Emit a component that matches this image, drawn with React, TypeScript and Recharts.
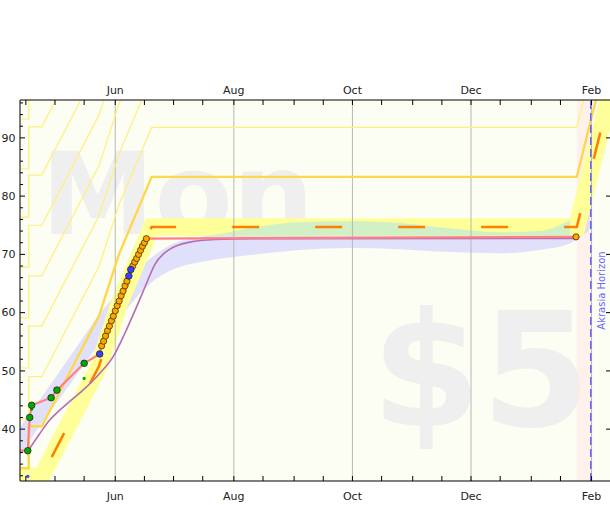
import React from "react";
import { ComposedChart, Line, Area, XAxis, YAxis, ReferenceLine, ReferenceArea } from "recharts";

// x = days since Jun 1 (Feb 1 = 245)
const xDomain = [-49, 255];
const yDomain = [31.1, 96.5];

const tickDays = [-46, -31, -16, 0, 15, 30, 45, 61, 76, 92, 107, 122, 137, 153, 168, 183, 198, 214, 229, 245];
const monthDays = [0, 61, 122, 183, 245];
const monthNames = ["Jun", "Aug", "Oct", "Dec", "Feb"];
const yTicks = [32, 34, 36, 38, 40, 42, 44, 46, 48, 50, 52, 54, 56, 58, 60, 62, 64, 66, 68, 70, 72, 74, 76, 78, 80, 82, 84, 86, 88, 90, 92, 94, 96];
const yLabelled = [40, 50, 60, 70, 80, 90];

// yellow brick road centreline
const roadDays = [-49, -44.5, -44.5, -37.8, -8.4, 2, 18.7, 237.4, 255];
const roadVals = [24.7, 24.7, 31.9, 31.9, 50.8, 61.5, 74.7, 74.7, 98.3];
const thickOffset = 8.6;
const laneOffsets = [17.1, 25.8, 34.4, 43.1, 51.7, 60.0, 68.5];
const roadHalf = 1.5;

// datapoints
const greenDays = [-45, -44, -43, -33, -30, -16];
const greenVals = [36.3, 42.0, 44.1, 45.4, 46.7, 51.3];
const blueDays = [-8, 7, 8];
const blueVals = [52.9, 66.3, 67.4];
const orangeDays = [-7, -6, -5, -4, -3, -2, -1, 0, 1, 2, 3, 4, 5, 6, 9, 10, 11, 12, 13, 14, 15, 16, 237];
const orangeVals = [54.3, 55.1, 56.0, 56.9, 57.7, 58.6, 59.4, 60.3, 61.2, 62.0, 62.9, 63.7, 64.6, 65.4, 68.0, 68.7, 69.3, 70.0, 70.7, 71.4, 72.0, 72.7, 73.0];
const rawDays = [-43, -16];
const rawVals = [43.4, 48.7];
const startDot = [{ day: -45, value: 31.9 }];
const lineStart = { day: -49, value: 36.3 };

// moving average
const maDays = [-44.6, -38.7, -33.6, -28.4, -23.3, -15.6, -7.9, -1, 5, 10.2, 15.3, 20.4, 28.1, 38.4, 51.3, 69.3, 237.4];
const maVals = [36.4, 39.3, 41.6, 43.3, 44.8, 47.0, 49.6, 52.5, 56.5, 60.4, 64.4, 68.3, 70.9, 72.1, 72.55, 72.7, 72.75];

// aura
const auraDays = [-49, -39, -28, -18, -8, 0, 8, 18, 31, 44, 69, 95, 121, 146, 172, 198, 218, 234, 244];
const auraLo = [35.3, 40.5, 45.5, 50.2, 54.8, 58.0, 61.5, 65.0, 67.6, 68.7, 69.9, 70.75, 71.1, 70.9, 70.4, 70.2, 70.75, 71.9, 74.2];
const auraHi = [40.3, 45.0, 50.2, 55.0, 59.8, 63.0, 66.2, 69.3, 72.0, 73.0, 74.5, 75.55, 75.7, 75.4, 74.5, 73.8, 74.0, 75.9, 78.5];

const horizonDay = 244.6;
const pinkFrom = 237.4;
const flatVal = 74.7;

const road = roadDays.map((d, i) => ({ day: d, value: roadVals[i] }));
const shifted = (off: number) => roadDays.map((d, i) => ({ day: d, value: roadVals[i] + off }));
const pts = (ds: number[], vs: number[]) => ds.map((d, i) => ({ day: d, value: vs[i] }));
const greens = pts(greenDays, greenVals);
const blues = pts(blueDays, blueVals);
const oranges = pts(orangeDays, orangeVals);
const raws = pts(rawDays, rawVals);
const redLine = [lineStart, ...greens, ...blues, ...oranges].sort((a, b) => a.day - b.day);
const movAvg = pts(maDays, maVals);
const aura = auraDays.map((d, i) => ({ day: d, range: [auraLo[i], auraHi[i]] }));
const overlap = auraDays.map((d, i) => {
  if (d < 19 || d > pinkFrom) return { day: d, range: null };
  const lo = Math.max(auraLo[i], flatVal - roadHalf);
  const hi = Math.max(lo, Math.min(auraHi[i], flatVal + roadHalf));
  return { day: d, range: [lo, hi] };
});

const font = { fontFamily: "DejaVu Sans, sans-serif", fontSize: 11, fill: "#222" };

const BottomTick = (p: any) => {
  const i = monthDays.indexOf(p.payload.value);
  return (
    <g>
      <line x1={p.x} x2={p.x} y1={p.y} y2={p.y - 5} stroke="#000" />
      {i >= 0 && <text x={p.x} y={p.y + 18.5} textAnchor="middle" {...font}>{monthNames[i]}</text>}
    </g>
  );
};
const TopTick = (p: any) => {
  const i = monthDays.indexOf(p.payload.value);
  return (
    <g>
      <line x1={p.x} x2={p.x} y1={p.y} y2={p.y + 5} stroke="#000" />
      {i >= 0 && <text x={p.x} y={p.y - 6} textAnchor="middle" {...font}>{monthNames[i]}</text>}
    </g>
  );
};
const LeftTick = (p: any) => {
  const major = yLabelled.includes(p.payload.value);
  return (
    <g>
      <line x1={p.x} x2={p.x + (major ? 5 : 3)} y1={p.y} y2={p.y} stroke="#000" />
      {major && <text x={p.x - 4.5} y={p.y} dy="0.35em" textAnchor="end" {...font}>{p.payload.value}</text>}
    </g>
  );
};
const RightTick = (p: any) => <line x1={p.x} x2={p.x - 5} y1={p.y} y2={p.y} stroke="#000" />;

const dotFn = (fill: string, r: number, stroke: string) => (p: any) => (
  <circle key={`${fill}-${p.index}`} cx={p.cx} cy={p.cy} r={r} fill={fill} stroke={stroke} strokeWidth={stroke === "none" ? 0 : 0.8} />
);

const HorizonLabel = (p: any) => {
  const vb = p.viewBox;
  const x = vb.x + 10.5;
  const y = vb.y + vb.height / 2;
  return (
    <text x={x} y={y} dy="0.35em" textAnchor="middle" transform={`rotate(-90 ${x} ${y})`} fontFamily="DejaVu Sans, sans-serif" fontSize={10} fill="#6a6aff">
      Akrasia Horizon
    </text>
  );
};

export default function App() {
  return (
    <div style={{ position: "absolute", left: 0, top: 0, width: 610, height: 505, overflow: "hidden", background: "#fff" }}>
      <svg width={610} height={505} style={{ position: "absolute", left: 0, top: 0 }}>
        <rect x={20} y={100} width={591} height={381} fill="#fcfdf3" />
        <text x={41} y={234} fontSize={114} fontWeight="bold" fill="#efefef" fontFamily="DejaVu Sans, sans-serif">Mon</text>
        <text x={591} y={426} fontSize={158} fontWeight="bold" fill="#efefef" textAnchor="end" fontFamily="DejaVu Sans, sans-serif">$5</text>
      </svg>
      <div style={{ position: "absolute", left: 0, top: 0 }}>
        <ComposedChart width={621} height={505} margin={{ top: 80, right: 0, bottom: 0, left: 0 }}>
          <XAxis dataKey="day" type="number" domain={xDomain} allowDataOverflow ticks={tickDays} interval={0}
            height={24} tickSize={0} tickMargin={0} tickLine={false} axisLine={{ stroke: "#000" }} tick={<BottomTick />} />
          <XAxis xAxisId="top" orientation="top" dataKey="day" type="number" domain={xDomain} allowDataOverflow ticks={tickDays} interval={0}
            height={20} tickSize={0} tickMargin={0} tickLine={false} axisLine={{ stroke: "#000" }} tick={<TopTick />} />
          <YAxis type="number" domain={yDomain} allowDataOverflow ticks={yTicks} interval={0} width={20}
            tickSize={0} tickMargin={0} tickLine={false} axisLine={{ stroke: "#000" }} tick={<LeftTick />} />
          <YAxis yAxisId="right" orientation="right" type="number" domain={yDomain} allowDataOverflow ticks={yLabelled} interval={0} width={10}
            tickSize={0} tickMargin={0} tickLine={false} axisLine={{ stroke: "#000" }} tick={<RightTick />} />

          <ReferenceArea x1={pinkFrom} x2={horizonDay} fill="#ffe5e5" fillOpacity={0.5} stroke="none" />
          {monthDays.map((d) => (
            <ReferenceLine key={d} x={d} stroke="#b8b8b8" strokeWidth={1} />
          ))}

          <Area data={aura} dataKey="range" type="monotone" stroke="none" fill="#c8c8ff" fillOpacity={0.55} isAnimationActive={false} zIndex={100} />
          <Line data={road} dataKey="value" type="linear" stroke="#ffff99" strokeWidth={17.4} strokeLinejoin="miter" dot={false} activeDot={false} isAnimationActive={false} zIndex={110} />
          <Area data={overlap} dataKey="range" type="monotone" stroke="none" fill="#d2f0c6" fillOpacity={1} isAnimationActive={false} zIndex={120} />

          {laneOffsets.map((o) => (
            <Line key={o} data={shifted(o)} dataKey="value" type="linear" stroke="#fff07a" strokeWidth={1.2} dot={false} activeDot={false} isAnimationActive={false} />
          ))}
          <Line data={shifted(thickOffset)} dataKey="value" type="linear" stroke="#ffd84a" strokeWidth={2.4} dot={false} activeDot={false} isAnimationActive={false} />
          <Line data={road} dataKey="value" type="linear" stroke="#ff8000" strokeWidth={2.6} strokeDasharray="27 56" strokeDashoffset={80.7} dot={false} activeDot={false} isAnimationActive={false} />
          <Line data={movAvg} dataKey="value" type="monotone" stroke="#b56bb5" strokeWidth={1.6} dot={false} activeDot={false} isAnimationActive={false} />

          <ReferenceLine x={horizonDay} stroke="#6666ff" strokeWidth={1.6} strokeDasharray="8 4" label={HorizonLabel} />

          <Line data={redLine} dataKey="value" type="linear" stroke="#ff8080" strokeWidth={2.2} dot={false} activeDot={false} isAnimationActive={false} />
          <Line data={raws} dataKey="value" stroke="none" dot={dotFn("#00aa00", 1.6, "none")} activeDot={false} isAnimationActive={false} />
          <Line data={startDot} dataKey="value" stroke="none" dot={dotFn("#3f3fff", 1.6, "none")} activeDot={false} isAnimationActive={false} />
          <Line data={greens} dataKey="value" stroke="none" dot={dotFn("#00aa00", 3.3, "#222")} activeDot={false} isAnimationActive={false} />
          <Line data={oranges} dataKey="value" stroke="none" dot={dotFn("#ffa500", 3.1, "#443300")} activeDot={false} isAnimationActive={false} />
          <Line data={blues} dataKey="value" stroke="none" dot={dotFn("#3f3fff", 3.3, "#222")} activeDot={false} isAnimationActive={false} />
        </ComposedChart>
      </div>
    </div>
  );
}
